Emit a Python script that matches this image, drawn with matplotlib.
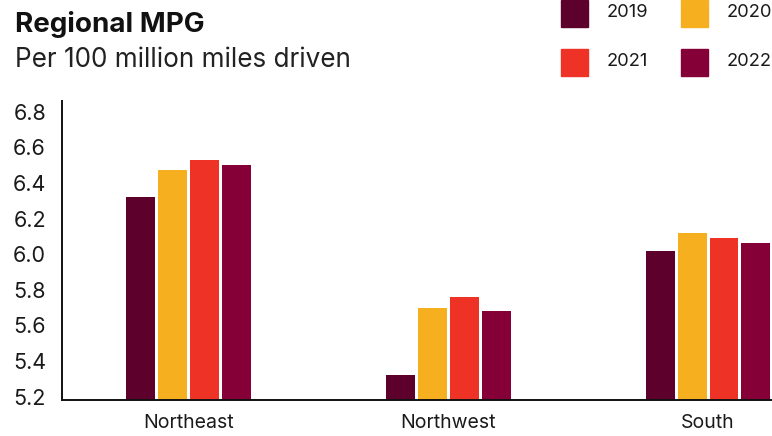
import matplotlib
matplotlib.use('Agg')
import matplotlib.pyplot as plt
import numpy as np
from matplotlib.patches import Rectangle

plt.rcParams['font.family'] = ['Inter', 'DejaVu Sans']

regions = ['Northeast', 'Northwest', 'South']
years = ['2019', '2020', '2021', '2022']
mpg_2019 = [6.32, 5.32, 6.02]
mpg_2020 = [6.47, 5.70, 6.12]
mpg_2021 = [6.53, 5.76, 6.09]
mpg_2022 = [6.50, 5.68, 6.06]
yticks = [5.2, 5.4, 5.6, 5.8, 6.0, 6.2, 6.4, 6.6, 6.8]

colors = ['#5e002c', '#f6b01f', '#ef3226', '#850036']
series = [mpg_2019, mpg_2020, mpg_2021, mpg_2022]

W, H = 772, 436
fig = plt.figure(figsize=(W / 100, H / 100), dpi=100)
# plot area runs a little past the right edge, like the original
ax = fig.add_axes([62 / W, 36 / H, 776 / W, 299 / H])

x = np.arange(len(regions))
step = 0.123
width = 0.1115
for i, (vals, col) in enumerate(zip(series, colors)):
    ax.bar(x + (i - 1.5) * step, vals, width=width, color=col, zorder=2)

ax.set_xlim(-0.485, 2.5)
ax.set_ylim(5.181, 6.86)
ax.set_yticks(yticks)
ax.set_yticklabels([f'{t:.1f}' for t in yticks])
ax.set_xticks(x)
ax.set_xticklabels(regions)
ax.tick_params(axis='y', length=0, pad=11.5, labelsize=15.5, labelcolor='#1a1a1a')
ax.tick_params(axis='x', length=0, pad=10, labelsize=14, labelcolor='#1a1a1a')
for s in ['top', 'right']:
    ax.spines[s].set_visible(False)
for s in ['left', 'bottom']:
    ax.spines[s].set_linewidth(1.4)
    ax.spines[s].set_color('#111111')

fig.text(15 / W, 1 - 31.7 / H, 'Regional MPG', fontsize=20, fontweight='bold',
         color='#111111', va='baseline', ha='left')
fig.text(15 / W, 1 - 66.7 / H, 'Per 100 million miles driven', fontsize=18.8,
         color='#222222', va='baseline', ha='left')

# legend: two columns, two rows
sq = 27
for i, (yr, col) in enumerate(zip(years, colors)):
    col_i, row_i = i % 2, i // 2
    lx = 561 + col_i * 120
    ly = 0 + row_i * 49
    fig.patches.append(Rectangle((lx / W, 1 - (ly + sq) / H), sq / W, sq / H,
                                 transform=fig.transFigure, color=col))
    fig.text((lx + 45.5) / W, 1 - (ly + 12.5) / H, yr, fontsize=13.2,
             color='#1a1a1a', va='center', ha='left')

fig.savefig('out.png', dpi=100)
